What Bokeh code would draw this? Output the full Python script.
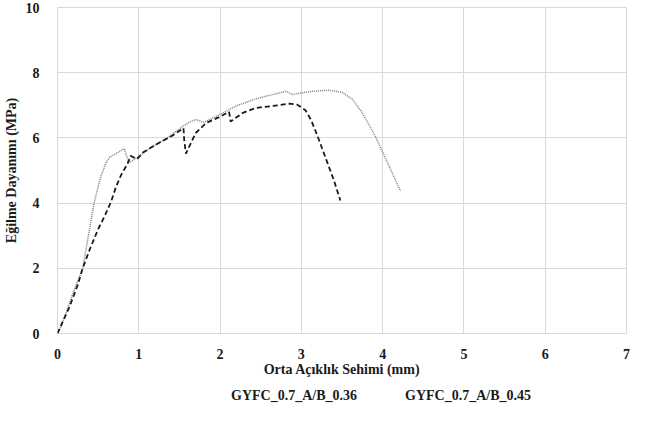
from bokeh.plotting import figure
from bokeh.models import Range1d, FixedTicker, Legend, LegendItem
from bokeh.layouts import column
from bokeh.embed import file_html
from bokeh.resources import INLINE

# Series GYFC_0.7_A/B_0.36 (dotted)
x36 = [0, 0.05, 0.1, 0.2, 0.31, 0.38, 0.45, 0.53, 0.6, 0.64, 0.72, 0.82, 0.85, 0.88,
       1.0, 1.17, 1.35, 1.54, 1.62, 1.70, 1.80, 2.0, 2.19, 2.44, 2.65, 2.81, 2.89,
       3.0, 3.14, 3.34, 3.5, 3.63, 3.75, 3.91, 4.08, 4.22]
y36 = [0, 0.25, 0.6, 1.3, 2.0, 3.0, 4.0, 4.8, 5.25, 5.4, 5.52, 5.67, 5.45, 5.24,
       5.43, 5.74, 6.0, 6.35, 6.48, 6.56, 6.48, 6.72, 6.97, 7.2, 7.33, 7.43, 7.33,
       7.38, 7.43, 7.46, 7.4, 7.18, 6.77, 6.05, 5.13, 4.37]

# Series GYFC_0.7_A/B_0.45 (dashed)
x45 = [0, 0.06, 0.15, 0.25, 0.31, 0.4, 0.5, 0.58, 0.66, 0.72, 0.78, 0.86, 0.9, 0.94,
       0.98, 1.05, 1.2, 1.4, 1.55, 1.56, 1.58, 1.7, 1.83, 2.0, 2.11, 2.13, 2.28, 2.44,
       2.65, 2.85, 2.95, 3.05, 3.12, 3.2, 3.32, 3.4, 3.48]
y45 = [0, 0.34, 0.83, 1.5, 2.0, 2.6, 3.2, 3.6, 4.05, 4.5, 4.85, 5.2, 5.45, 5.4,
       5.35, 5.55, 5.78, 6.05, 6.3, 5.9, 5.52, 6.15, 6.46, 6.65, 6.8, 6.5, 6.77, 6.92,
       6.98, 7.05, 7.02, 6.85, 6.55, 6.05, 5.24, 4.7, 4.08]

x_ticks = [0, 1, 2, 3, 4, 5, 6, 7]
y_ticks = [0, 2, 4, 6, 8, 10]
labels = ["GYFC_0.7_A/B_0.36", "GYFC_0.7_A/B_0.45"]

FONT = "Liberation Serif"
C36 = "#7f7f7f"
C45 = "#1a1a1a"
D36 = "1 1"
D45 = "5 3"

p = figure(width=638, height=381, frame_width=569, frame_height=326,
           output_backend="svg", toolbar_location=None,
           x_range=Range1d(0, 7), y_range=Range1d(0, 10),
           min_border_left=47, min_border_right=14, min_border_top=7,
           min_border_bottom=48)

p.background_fill_color = "white"
p.border_fill_color = "white"
p.outline_line_color = "#d9d9d9"
p.outline_line_width = 1

for ax in (p.xaxis[0], p.yaxis[0]):
    ax.axis_line_color = None
    ax.major_tick_line_color = None
    ax.minor_tick_line_color = None
    ax.major_label_text_font = FONT
    ax.major_label_text_font_style = "bold"
    ax.major_label_text_font_size = "14px"
    ax.major_label_text_color = "#1a1a1a"
    ax.axis_label_text_font = FONT
    ax.axis_label_text_font_style = "bold"
    ax.axis_label_text_font_size = "14px"
    ax.axis_label_text_color = "#1a1a1a"

p.xaxis.ticker = FixedTicker(ticks=x_ticks)
p.yaxis.ticker = FixedTicker(ticks=y_ticks)
p.xaxis.major_label_standoff = 9
p.yaxis.major_label_standoff = 12
p.xaxis.axis_label = "Orta Açıklık Sehimi (mm)"
p.yaxis.axis_label = "Eğilme Dayanımı (MPa)"
p.xaxis.axis_label_standoff = 0
p.yaxis.axis_label_standoff = 4

p.xgrid.ticker = FixedTicker(ticks=x_ticks)
p.ygrid.ticker = FixedTicker(ticks=y_ticks)
p.grid.grid_line_color = "#d9d9d9"
p.grid.grid_line_width = 1

p.line(x36, y36, line_color=C36, line_width=1.5, line_dash=D36)
p.line(x45, y45, line_color=C45, line_width=1.8, line_dash=D45)

# legend strip below the chart (same line styles as the chart's series)
lg = figure(width=638, height=30, output_backend="svg", toolbar_location=None,
            x_axis_type=None, y_axis_type=None,
            min_border_left=0, min_border_right=0, min_border_top=0,
            min_border_bottom=0)
lg.outline_line_color = None
lg.grid.visible = False
lg.background_fill_color = "white"
lg.border_fill_color = "white"
k1 = lg.line(x=[], y=[], line_color=C36, line_width=1.5, line_dash=D36)
k2 = lg.line(x=[], y=[], line_color=C45, line_width=1.8, line_dash=D45)

legend = Legend(items=[LegendItem(label=labels[0], renderers=[k1]),
                       LegendItem(label=labels[1], renderers=[k2])],
                orientation="horizontal", location=(150, 7))
legend.border_line_color = None
legend.background_fill_alpha = 0
legend.padding = 0
legend.margin = 0
legend.spacing = 24
legend.glyph_width = 20
legend.glyph_height = 14
legend.label_height = 14
legend.label_standoff = 4
legend.label_text_font = FONT
legend.label_text_font_style = "bold"
legend.label_text_font_size = "14px"
legend.label_text_color = "#1a1a1a"
lg.add_layout(legend)

layout = column(p, lg, spacing=0)

open("out.html", "w").write(file_html(layout, INLINE))
